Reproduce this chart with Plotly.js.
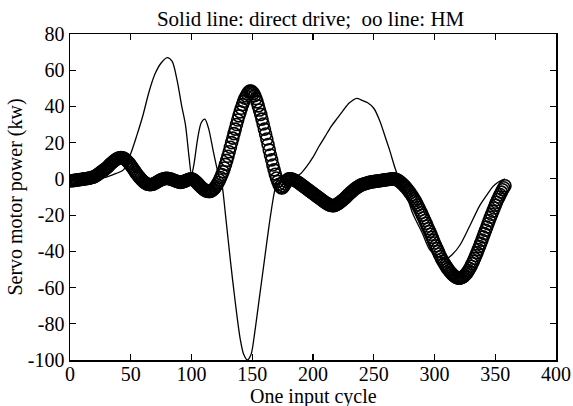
<!DOCTYPE html>
<html>
<head>
<meta charset="utf-8">
<script src="https://cdn.plot.ly/plotly-3.0.1.min.js"></script>
<style>html,body{margin:0;padding:0;background:#fff;}#chart{width:573px;height:406px;}</style>
</head>
<body>
<div id="chart"></div>
<script>
// Solid line: direct drive
const directX = [0,10,20,30,38,44,50,55,60,65,70,75,80,84,88,92,95,98,100,102,105,108,111,114,118,122,125,128,132,136,140,143,146,149,152,156,160,164,168,171,175,180,186,190,195,200,205,210,215,220,225,230,236,240,245,250,255,260,263,268,272,276,282,290,296,303,310,315,321,329,337,343,348,352,356,358];
const directY = [-1,-0.5,0,1,3,5,14,24,35,48,58,64,67,65,55,40,30,12,2,8,22,31,33,28,15,3,-3,-20,-45,-68,-88,-97,-100,-97,-85,-65,-45,-25,-8,0,1.5,1.5,1.5,3,7,12,18,23.5,29,33.5,38,42,44.5,43.5,42,39,32,22,16,5,-2,-7,-19,-30,-39,-43,-44,-41.5,-36.5,-26,-15,-9,-4.3,-2,-0.6,0];

// oo line: HM (one sample per unit, x = 0 ... 358)
const hmX = [
0,1,2,3,4,5,6,7,8,9,10,11,12,13,14,15,16,17,18,19,20,21,22,23,24,25,26,27,28,29,
30,31,32,33,34,35,36,37,38,39,40,41,42,43,44,45,46,47,48,49,50,51,52,53,54,55,56,57,58,59,
60,61,62,63,64,65,66,67,68,69,70,71,72,73,74,75,76,77,78,79,80,81,82,83,84,85,86,87,88,89,
90,91,92,93,94,95,96,97,98,99,100,101,102,103,104,105,106,107,108,109,110,111,112,113,114,115,116,117,118,119,
120,121,122,123,124,125,126,127,128,129,130,131,132,133,134,135,136,137,138,139,140,141,142,143,144,145,146,147,148,149,
150,151,152,153,154,155,156,157,158,159,160,161,162,163,164,165,166,167,168,169,170,171,172,173,174,175,176,177,178,179,
180,181,182,183,184,185,186,187,188,189,190,191,192,193,194,195,196,197,198,199,200,201,202,203,204,205,206,207,208,209,
210,211,212,213,214,215,216,217,218,219,220,221,222,223,224,225,226,227,228,229,230,231,232,233,234,235,236,237,238,239,
240,241,242,243,244,245,246,247,248,249,250,251,252,253,254,255,256,257,258,259,260,261,262,263,264,265,266,267,268,269,
270,271,272,273,274,275,276,277,278,279,280,281,282,283,284,285,286,287,288,289,290,291,292,293,294,295,296,297,298,299,
300,301,302,303,304,305,306,307,308,309,310,311,312,313,314,315,316,317,318,319,320,321,322,323,324,325,326,327,328,329,
330,331,332,333,334,335,336,337,338,339,340,341,342,343,344,345,346,347,348,349,350,351,352,353,354,355,356,357,358];
const hmY = [
-1,-1,-1,-0.9,-0.8,-0.7,-0.6,-0.5,-0.4,-0.3,-0.2,-0.1,0,0.1,0.2,0.3,0.4,0.6,0.8,1,1.2,1.6,2,2.5,3,3.5,4,4.5,5,5.5,
6,6.6,7.3,8,8.6,9.2,9.8,10.3,10.8,11.2,11.5,11.7,11.8,11.7,11.5,11.1,10.6,9.9,9.2,8.4,7.5,6.6,5.6,4.6,3.6,2.7,1.8,1,0.2,-0.5,
-1.2,-1.8,-2.3,-2.7,-3,-3.1,-3.2,-3.1,-3,-2.7,-2.4,-2,-1.6,-1.2,-0.8,-0.5,-0.2,0,0.2,0.3,0.3,0.2,0.1,-0.1,-0.3,-0.6,-0.9,-1.2,-1.4,-1.6,
-1.8,-1.9,-1.8,-1.6,-1.4,-1.1,-0.8,-0.5,-0.2,-0.1,0,-0.2,-0.6,-1.2,-1.8,-2.5,-3.2,-3.9,-4.6,-5.2,-5.8,-6.2,-6.6,-6.8,-7,-7,-6.8,-6.4,-5.8,-5.1,
-4.2,-3.2,-2,-0.6,0.8,2.4,4,6,8,10.2,12.5,15,17.5,20,22.5,25,27.5,30,32.5,34.8,37,39,41,42.8,44.5,45.8,47,47.9,48.5,48.5,
48,47.2,46,44.4,42.5,40.3,38,35.6,33,30.3,27.5,24.8,22,19,16,13.2,10.5,7.7,5,2.6,0.5,-1.4,-3,-4.2,-5,-4.8,-4,-2.8,-1.5,-0.5,
0,0.1,0,-0.2,-0.5,-0.8,-1.2,-1.6,-2,-2.5,-3,-3.5,-4,-4.5,-5,-5.5,-6,-6.5,-7,-7.5,-8,-8.5,-9,-9.5,-10,-10.5,-11,-11.5,-12,-12.5,
-13,-13.4,-13.8,-14.2,-14.5,-14.7,-14.8,-14.8,-14.6,-14.3,-14,-13.5,-13,-12.5,-12,-11.4,-10.8,-10.2,-9.5,-8.8,-8.2,-7.6,-7,-6.4,-5.8,-5.3,-4.8,-4.4,-4,-3.6,
-3.3,-3,-2.8,-2.6,-2.4,-2.2,-2,-1.8,-1.7,-1.6,-1.5,-1.4,-1.3,-1.2,-1.1,-1,-0.9,-0.8,-0.7,-0.6,-0.5,-0.4,-0.3,-0.2,-0.1,0,0,-0.1,-0.2,-0.5,
-0.8,-1.3,-1.8,-2.4,-3,-3.7,-4.4,-5.2,-6,-6.9,-7.8,-8.8,-9.8,-10.9,-12,-13.2,-14.5,-15.8,-17.2,-18.6,-20,-21.5,-23,-24.5,-26,-27.5,-29,-30.6,-32.2,-33.8,
-35.4,-37,-38.5,-40,-41.5,-42.9,-44.2,-45.4,-46.6,-47.7,-48.7,-49.7,-50.6,-51.4,-52.2,-52.9,-53.5,-54,-54.4,-54.7,-54.8,-54.8,-54.6,-54.3,-53.8,-53.2,-52.5,-51.6,-50.6,-49.5,
-48.2,-46.8,-45.4,-43.9,-42.3,-40.7,-39,-37.3,-35.6,-33.8,-32,-30.2,-28.4,-26.6,-24.8,-23,-21.2,-19.5,-17.8,-16.1,-14.5,-12.9,-11.4,-10,-8.6,-7.3,-6,-4.9,-3.8];

const xTicks = [0,50,100,150,200,250,300,350,400];
const yTicks = [-100,-80,-60,-40,-20,0,20,40,60,80];

const titleText = 'Solid line: direct drive;&nbsp;&nbsp;oo line: HM';
const xTitle = 'One input cycle';
const yTitle = 'Servo motor power (kw)';

const fontFam = '"Liberation Serif", "Times New Roman", serif';

const traces = [
  {x: directX, y: directY, type: 'scatter', mode: 'lines',
   line: {color: '#000', width: 1.3, shape: 'spline', smoothing: 0.8}, hoverinfo: 'skip'},
  {x: hmX, y: hmY, type: 'scatter', mode: 'markers',
   marker: {symbol: 'circle-open', size: 12, color: '#000', line: {width: 1.6, color: '#000'}}, hoverinfo: 'skip'}
];

const axisCommon = {
  showgrid: false, zeroline: false, showline: true, linecolor: '#000', linewidth: 1.5,
  ticks: 'inside', ticklen: 6, tickwidth: 1.2, tickcolor: '#000', mirror: 'ticks',
  tickfont: {family: fontFam, size: 20, color: '#000'}, automargin: false
};

const layout = {
  width: 573, height: 406,
  margin: {l: 70, r: 17, t: 34, b: 46},
  paper_bgcolor: '#fff', plot_bgcolor: '#fff',
  showlegend: false,
  font: {family: fontFam, size: 20, color: '#000'},
  title: {text: titleText, font: {family: fontFam, size: 21, color: '#000'},
          xref: 'paper', x: 0.495, xanchor: 'center', yref: 'container', y: 0.955, yanchor: 'middle'},
  xaxis: Object.assign({}, axisCommon, {range: [0, 400], tickvals: xTicks, ticktext: xTicks.map(String),
          ticklabelstandoff: -5}),
  yaxis: Object.assign({}, axisCommon, {range: [-100, 80], tickvals: yTicks, ticktext: yTicks.map(String),
          title: {text: yTitle, font: {family: fontFam, size: 20, color: '#000'}, standoff: 0}}),
  annotations: [{
    text: xTitle, xref: 'paper', yref: 'paper', x: 0.5, y: -0.112,
    xanchor: 'center', yanchor: 'middle', showarrow: false,
    font: {family: fontFam, size: 20, color: '#000'}
  }]
};

Plotly.newPlot('chart', traces, layout, {staticPlot: true, displayModeBar: false});
</script>
</body>
</html>
